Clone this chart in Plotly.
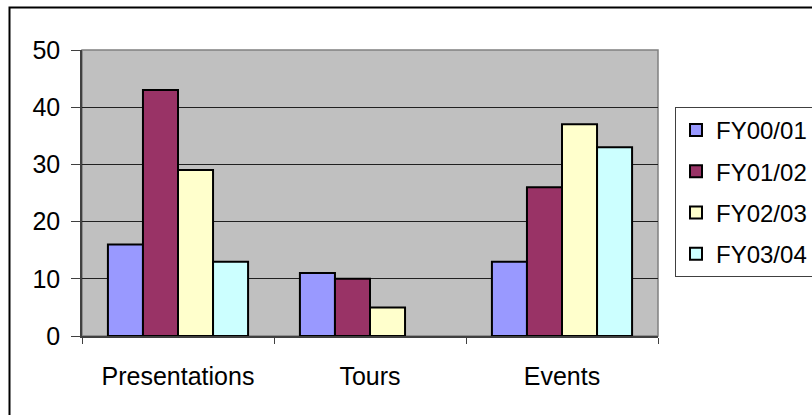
import plotly.graph_objects as go

categories = ["Presentations", "Tours", "Events"]
series_names = ["FY00/01", "FY01/02", "FY02/03", "FY03/04"]
fy0001 = [16, 11, 13]
fy0102 = [43, 10, 26]
fy0203 = [29, 5, 37]
fy0304 = [13, None, 33]
colors = ["#9999FF", "#993366", "#FFFFCC", "#CCFFFF"]
y_ticks = [0, 10, 20, 30, 40, 50]

W, H = 812, 415
L, R, T, B = 82, 154, 50, 79
pw, ph = W - L - R, H - T - B

def px_x(x):
    return (x - L) / pw

def px_y(y):
    return (H - B - y) / ph

fig = go.Figure()
for i, (name, vals) in enumerate(zip(series_names, [fy0001, fy0102, fy0203, fy0304])):
    fig.add_trace(go.Bar(
        x=categories, y=vals, name=name, legendgroup=name,
        marker=dict(color=colors[i], line=dict(color="black", width=2)),
    ))

font_family = "Arial, Liberation Sans, sans-serif"
fig.update_layout(
    width=W, height=H,
    margin=dict(l=L, r=R, t=T, b=B, pad=0, autoexpand=False),
    paper_bgcolor="white", plot_bgcolor="#C0C0C0",
    barmode="group", bargap=0.27, bargroupgap=0,
    font=dict(family=font_family, size=25, color="black"),
    legend=dict(
        x=px_x(675), y=px_y(107), xanchor="left", yanchor="top",
        bordercolor="#404040", borderwidth=1, bgcolor="white",
        font=dict(size=24), traceorder="grouped", tracegroupgap=7,
        itemclick=False,
    ),
    xaxis=dict(
        showline=True, linecolor="#404040", linewidth=1.5,
        ticks="outside", tickson="boundaries", ticklen=6, tickcolor="#404040",
        showgrid=False, ticklabelstandoff=17,
    ),
    yaxis=dict(
        range=[0, 50], tickvals=y_ticks, showline=True, linecolor="#404040", linewidth=1.5,
        ticks="outside", ticklen=9, tickcolor="#404040",
        showgrid=True, gridcolor="#202020", gridwidth=1, zeroline=False,
        ticklabelstandoff=6,
    ),
    shapes=[
        dict(type="rect", xref="paper", yref="paper", x0=0, x1=1, y0=0, y1=1,
             line=dict(color="#808080", width=1.5), layer="below"),
        dict(type="rect", xref="paper", yref="paper",
             x0=px_x(9.5), x1=px_x(830), y0=px_y(430), y1=px_y(7.5),
             line=dict(color="black", width=2), layer="above"),
    ],
)

fig.write_html("out.html")
